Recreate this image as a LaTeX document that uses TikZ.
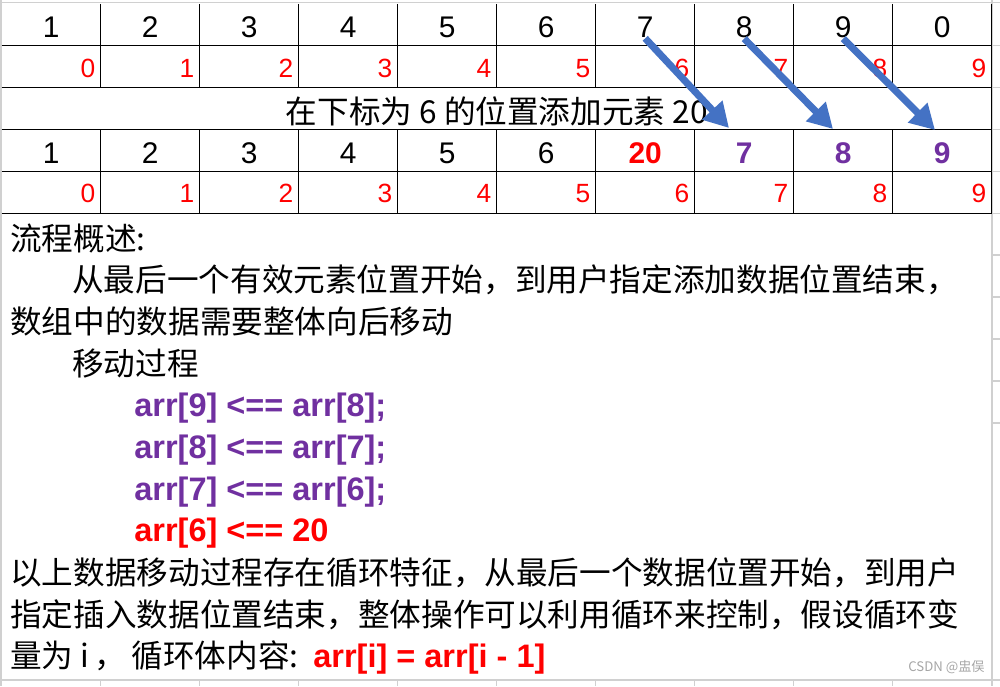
\documentclass[tikz,border=0pt]{standalone}
\usepackage{fontspec}
\setmainfont{Liberation Sans}
\newfontfamily\cjk{Noto Sans CJK SC}
\usetikzlibrary{arrows.meta}
\definecolor{rouge}{HTML}{FF0000}
\definecolor{pourpre}{HTML}{7030A0}
\definecolor{bleu}{HTML}{4472C4}
\definecolor{grille}{HTML}{D0D0D0}
\begin{document}
\begin{tikzpicture}[x=0.02cm,y=-0.02cm]
		\tikzstyle{trait}=[line width=0.75pt,black]
		\tikzstyle{fin}=[line width=0.6pt,grille]
		\tikzstyle{chiffre}=[inner sep=0pt,anchor=base,font=\fontsize{17}{20}\selectfont]
		\tikzstyle{gras}=[chiffre,font=\bfseries\fontsize{17}{20}\selectfont]
		\tikzstyle{indice}=[inner sep=0pt,anchor=base east,text=rouge,font=\fontsize{15}{18}\selectfont]
		\tikzstyle{texte}=[inner sep=0pt,anchor=base west,font=\cjk\fontsize{18}{21}\selectfont]
		\tikzstyle{code}=[inner sep=0pt,anchor=base west,font=\bfseries\fontsize{18.5}{21}\selectfont]
		\tikzstyle{fleche}=[-{Triangle[length=14pt,width=15pt]},line width=4pt,bleu]
		\def\Gauche{1.7}
		\def\Droite{991.7}
		\def\Larg{99}
		\fill[white] (0,0) rectangle (1000,686);
		\useasboundingbox (0,0) rectangle (1000,686);
		\draw[fin] (0,2.5) -- (1000,2.5);
		\draw[fin] (0,680) -- (1000,680);
		\draw[fin] (1,0) -- (1,686);
		\draw[fin] (992,0) -- (992,686);
		\foreach \y in {45.5,87.3,129.3,171.5,213.3,255,297,339,381,423}
			\draw[fin] (992,\y) -- (1000,\y);
		\foreach \k in {1,...,9}
			\draw[fin] ({\Gauche+\Larg*\k},680) -- ({\Gauche+\Larg*\k},686);
		\foreach \y in {45.5,87.3,129.3,171.5,213.3}
			\draw[trait] (\Gauche,\y) -- (\Droite,\y);
		\foreach \k in {1,...,9} {
			\draw[trait] ({\Gauche+\Larg*\k},4) -- ({\Gauche+\Larg*\k},87.3);
			\draw[trait] ({\Gauche+\Larg*\k},129.3) -- ({\Gauche+\Larg*\k},213.3);
		}
		\draw[trait] (\Droite,4) -- (\Droite,213.3);
		\foreach \v [count=\i] in {1,2,3,4,5,6,7,8,9,0} {
			\node[chiffre] (A\i) at ({\Gauche+\Larg*(\i-0.5)},38) {\v};
			\node[indice] (B\i) at ({\Gauche+\Larg*\i-5},77.5) {\the\numexpr\i-1\relax};
			\node[indice] (E\i) at ({\Gauche+\Larg*\i-5},202.5) {\the\numexpr\i-1\relax};
		}
		\node[inner sep=0pt,anchor=base,font=\cjk\fontsize{18}{21}\selectfont] (C) at (496.7,123) {在下标为 6 的位置添加元素 20};
		\foreach \v [count=\i] in {1,2,3,4,5,6}
			\node[chiffre] (D\i) at ({\Gauche+\Larg*(\i-0.5)},163) {\v};
		\node[gras,text=rouge] (D7) at (645.2,163) {20};
		\node[gras,text=pourpre] (D8) at (744.2,163) {7};
		\node[gras,text=pourpre] (D9) at (843.2,163) {8};
		\node[gras,text=pourpre] (D10) at (942.2,163) {9};
		\coordinate (F7) at (729,128);
		\coordinate (F8) at (833,129);
		\coordinate (F9) at (935,130);
		\draw[fleche] (A7.south) -- (F7);
		\draw[fleche] (A8.south) -- (F8);
		\draw[fleche] (A9.south) -- (F9);
		\node[texte] (T1) at (10,250) {流程概述:};
		\node[texte] (T2) at (72,291) {从最后一个有效元素位置开始，到用户指定添加数据位置结束，};
		\node[texte] (T3) at (10,333) {数组中的数据需要整体向后移动};
		\node[texte] (T4) at (72,375) {移动过程};
		\node[code,text=pourpre] (K1) at (134,416) {arr[9] <== arr[8];};
		\node[code,text=pourpre] (K2) at (134,458) {arr[8] <== arr[7];};
		\node[code,text=pourpre] (K3) at (134,500) {arr[7] <== arr[6];};
		\node[code,text=rouge] (K4) at (134,541) {arr[6] <== 20};
		\node[texte] (T5) at (10,584) {以上数据移动过程存在循环特征，从最后一个数据位置开始，到用户};
		\node[texte] (T6) at (10,626) {指定插入数据位置结束，整体操作可以利用循环来控制，假设循环变};
		\node[texte] (T7) at (10,667) {量为 i\,，\,循环体内容:};
		\node[code,text=rouge] (K5) at (313,667) {arr[i] = arr[i - 1]};
		\node[inner sep=0pt,anchor=base east,text=gray!70,font=\cjk\fontsize{7.5}{9}\selectfont] (W) at (985,671) {CSDN @盅俣};
	\end{tikzpicture}
\end{document}
